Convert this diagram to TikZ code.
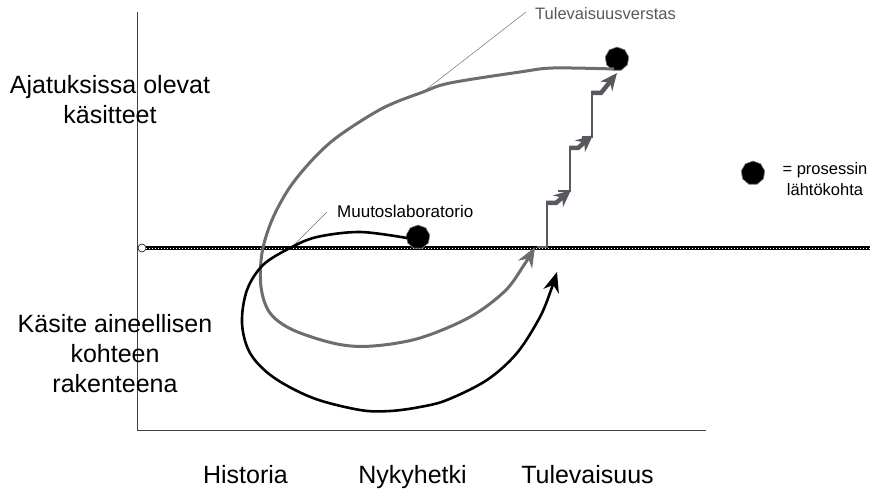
\documentclass[tikz,border=0pt]{standalone}
\usepackage{fontspec}
\setmainfont{Liberation Sans}
\usetikzlibrary{arrows.meta,shapes.geometric}
\definecolor{pathgray}{RGB}{108,108,114}
\definecolor{stepgray}{RGB}{88,88,94}
\begin{document}
\begin{tikzpicture}[x=1pt,y=-1pt,
  blob/.style={regular polygon, regular polygon sides=9, minimum size=24pt,
    inner sep=0pt, fill=black, draw=black!45, line width=0.6pt},
  biglabel/.style={font=\fontsize{25}{30}\selectfont, inner sep=0pt},
  smalllabel/.style={font=\fontsize{16.5}{21}\selectfont, inner sep=0pt},
  axisline/.style={draw=black!75, line width=0.9pt},
  pointer/.style={draw=black!55, line width=0.5pt},
  greypath/.style={draw=pathgray, line width=3pt, line join=round},
  blackpath/.style={draw=black, line width=2.6pt, line join=round},
  bighead/.style={-{Stealth[length=20pt,width=16pt]}},
  stairline/.style={draw=stepgray, line width=2pt},
  stairhead/.style={draw=stepgray, line width=4.5pt,
    -{Stealth[length=17pt,width=15pt]}},
]
\useasboundingbox (0,0) rectangle (870,489);

% axes
\coordinate (ytop) at (137,12);
\coordinate (origin) at (137,430);
\coordinate (xend) at (706,430);
\draw[axisline] (ytop) -- (origin) -- (xend);

% the present moment line
\node[circle, draw=black, fill=white, inner sep=0pt, minimum size=8pt,
  line width=0.6pt] (now0) at (142,248) {};
\coordinate (nowend) at (870,248);
\draw[black, line width=3.2pt] (now0.east) -- (nowend);
\draw[white, line width=0.5pt, dash pattern=on 0.6pt off 2.4pt] (now0.east) -- (nowend);

% starting points of the processes
\node[blob] (mlab) at (418,237) {};
\node[blob] (tvs) at (617,59) {};
\node[blob] (legend) at (753,173) {};

% future workshop loop
\draw[greypath, bighead]
  plot[smooth, tension=0.55] coordinates {
    (614,69) (553,68) (520,72) (450,83) (423,92) (383,108) (340,135)
    (315,157) (290,187) (272,220) (262,253) (261,287) (270,313)
    (293,330) (337,344) (373,346) (420,338) (470,317) (505,291)
    (524,265) (535,247)};

% change laboratory loop
\draw[blackpath, bighead]
  plot[smooth, tension=0.55] coordinates {
    (407,238) (360,232) (317,237) (290,248) (263,265) (247,290)
    (242,323) (250,353) (273,377) (313,398) (360,410) (390,411)
    (420,407) (447,400) (487,380) (517,353) (540,317) (551,290)
    (557,272)};

% staircase towards the future
\draw[stairline] (537,247) -- (547,247) -- (547,203);
\draw[stairhead] (546,203) -- (556,203) -- (571,190);
\draw[stairline] (558,191) -- (570,191) -- (570,148);
\draw[stairhead] (569,148) -- (578,148) -- (593,135);
\draw[stairline] (582,137) -- (592,137) -- (592,93);
\draw[stairhead] (591,93) -- (601,93) -- (617,73);

% labels
\node[biglabel, align=center, anchor=north] (ideas) at (110,75)
  {Ajatuksissa olevat\\käsitteet};
\node[biglabel, align=center, anchor=north] (matter) at (115,314)
  {Käsite aineellisen\\kohteen\\rakenteena};
\node[biglabel, anchor=base] (hist) at (245.5,483) {Historia};
\node[biglabel, anchor=base] (present) at (412.5,483) {Nykyhetki};
\node[biglabel, anchor=base] (future) at (587.5,483) {Tulevaisuus};

\node[font=\fontsize{17}{20}\selectfont, inner sep=0pt, anchor=base west]
  (mlabel) at (337,218) {Muutoslaboratorio};
\node[font=\fontsize{16.5}{20}\selectfont, text=stepgray, inner sep=0pt,
  anchor=base west] (tlabel) at (535,20) {Tulevaisuusverstas};
\node[smalllabel, align=center, anchor=north] (legendtext) at (825,162)
  {= prosessin\\lähtökohta};

% label pointers
\coordinate (mlfoot) at (295,244);
\coordinate (tlfoot) at (423,92);
\draw[pointer] ([shift={(-10,-6)}]mlabel.base west) -- (mlfoot);
\draw[pointer] ([shift={(-9,-8)}]tlabel.base west) -- (tlfoot);
\end{tikzpicture}
\end{document}
